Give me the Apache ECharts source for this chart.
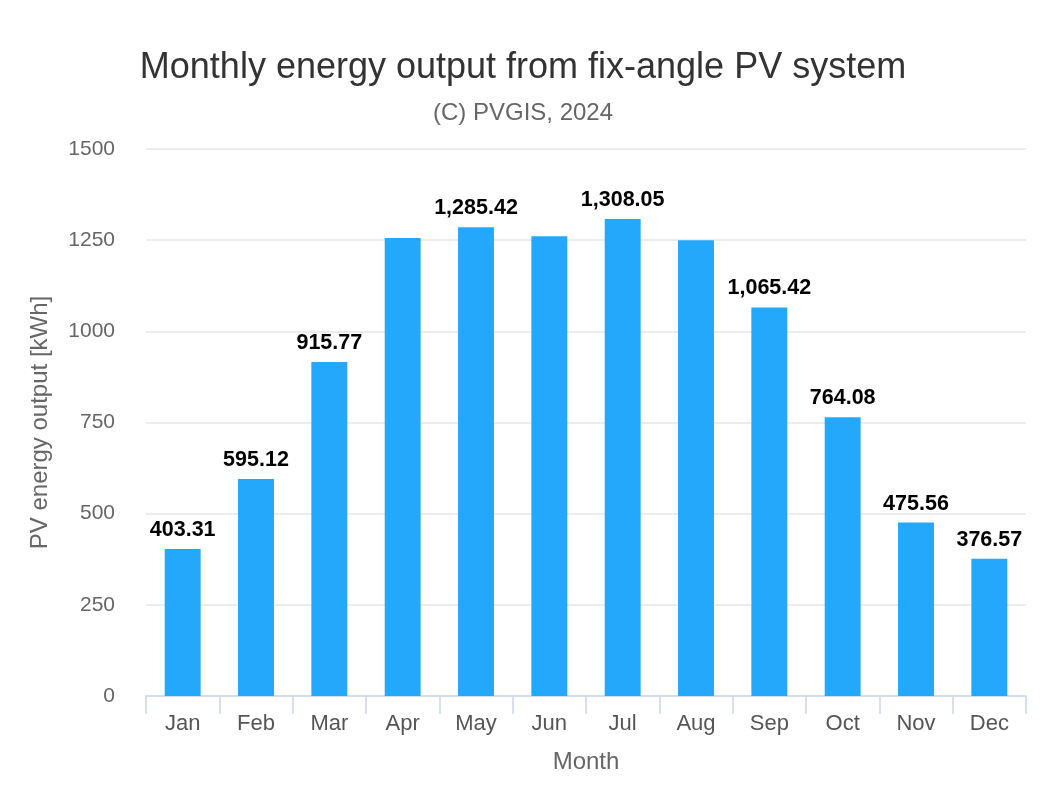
<!DOCTYPE html>
<html>
<head>
<meta charset="utf-8">
<script src="https://cdn.jsdelivr.net/npm/echarts@6/dist/echarts.min.js"></script>
<style>html,body{margin:0;padding:0;background:#fff}#c{width:1046px;height:800px}</style>
</head>
<body>
<div id="c"></div>
<script>
const months = ['Jan','Feb','Mar','Apr','May','Jun','Jul','Aug','Sep','Oct','Nov','Dec'];
const output = [403.31, 595.12, 915.77, 1256, 1285.42, 1261, 1308.05, 1250, 1065.42, 764.08, 475.56, 376.57];
const labelShown = [true, true, true, false, true, false, true, false, true, true, true, true];
const yTicks = {min: 0, max: 1500, interval: 250};

const fmt = v => v.toLocaleString('en-US', {minimumFractionDigits: 2, maximumFractionDigits: 2});

const chart = echarts.init(document.getElementById('c'));
chart.setOption({
  animation: false,
  title: [{
    text: 'Monthly energy output from fix-angle PV system',
    left: 'center', top: 45,
    textStyle: {fontFamily: 'Liberation Sans, Arial', fontSize: 36, fontWeight: 'normal', color: '#333333'}
  }, {
    text: '(C) PVGIS, 2024',
    left: 'center', top: 96,
    textStyle: {fontFamily: 'Liberation Sans, Arial', fontSize: 24, fontWeight: 'normal', color: '#666666'}
  }],
  grid: {left: 146, right: 20, top: 149, bottom: 104},
  xAxis: {
    type: 'category',
    data: months,
    boundaryGap: true,
    axisLine: {lineStyle: {color: '#ccd6eb', width: 1.5}},
    axisTick: {show: true, length: 18, lineStyle: {color: '#ccd6eb', width: 1.5}},
    axisLabel: {fontFamily: 'Liberation Sans, Arial', fontSize: 22, color: '#555555', margin: 17},
    name: 'Month', nameLocation: 'middle', nameGap: 54,
    nameTextStyle: {fontFamily: 'Liberation Sans, Arial', fontSize: 24, color: '#666666'}
  },
  yAxis: {
    type: 'value',
    min: yTicks.min, max: yTicks.max, interval: yTicks.interval,
    axisLine: {show: false}, axisTick: {show: false},
    splitLine: {lineStyle: {color: '#e6e6e6', width: 1.5}},
    axisLabel: {fontFamily: 'Liberation Sans, Arial', fontSize: 21, color: '#666666', margin: 31, formatter: v => String(v)},
    name: 'PV energy output [kWh]', nameLocation: 'middle', nameGap: 94, nameRotate: 90,
    nameTextStyle: {fontFamily: 'Liberation Sans, Arial', fontSize: 24, color: '#666666'}
  },
  series: [{
    type: 'bar',
    data: output.map((v, i) => ({value: v, label: {show: labelShown[i]}})),
    barWidth: '49%',
    itemStyle: {color: '#24a8fc'},
    label: {
      position: 'top', distance: 8,
      formatter: p => fmt(p.value),
      fontFamily: 'Liberation Sans, Arial', fontSize: 21.5, fontWeight: 'bold', color: '#000000',
      textBorderColor: '#ffffff', textBorderWidth: 2
    }
  }]
});
</script>
</body>
</html>
